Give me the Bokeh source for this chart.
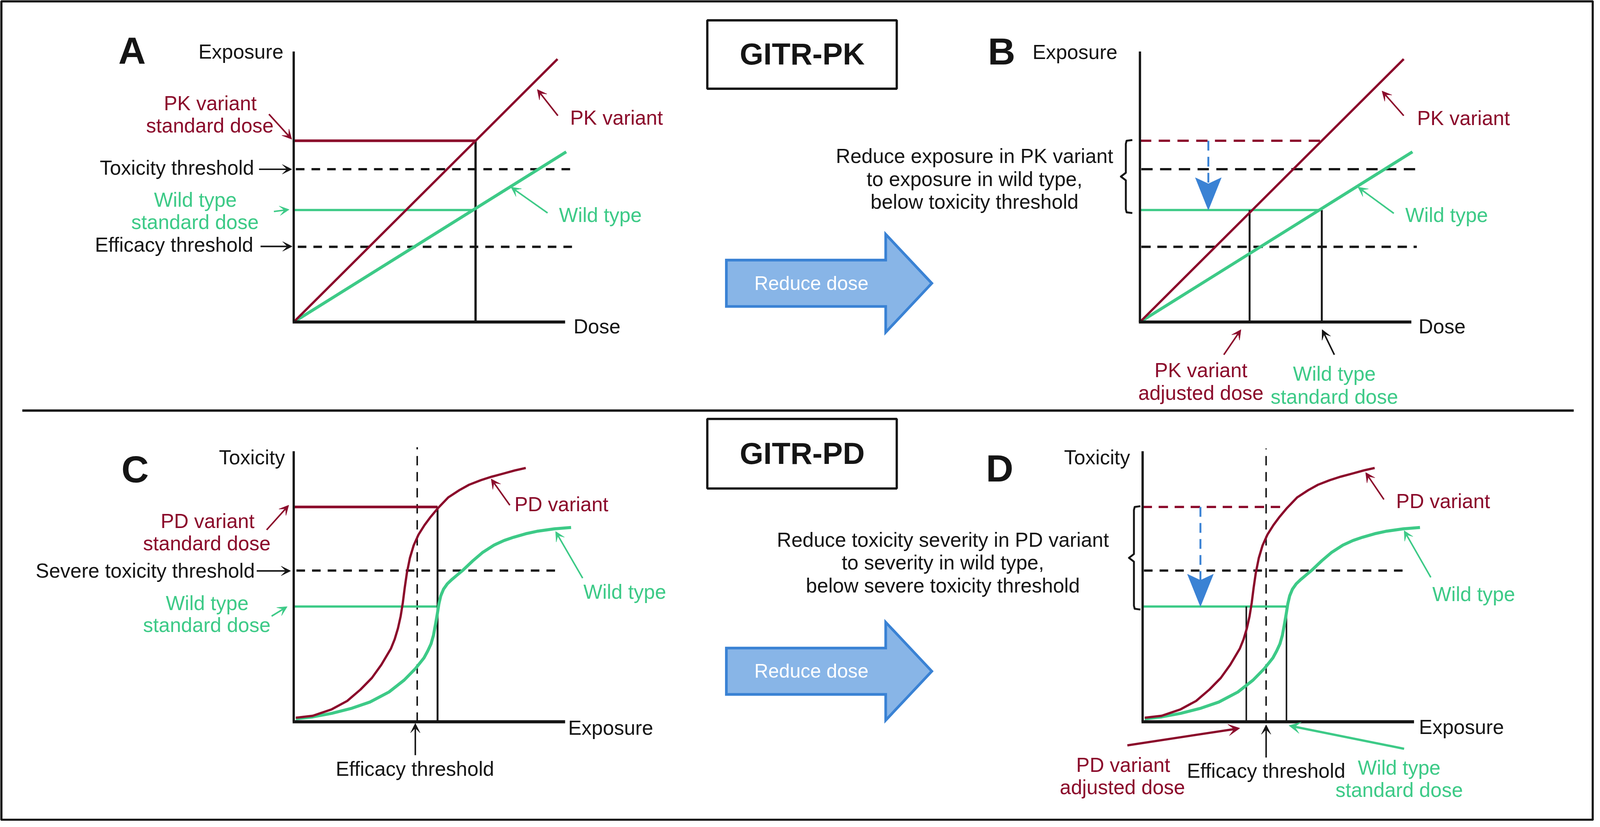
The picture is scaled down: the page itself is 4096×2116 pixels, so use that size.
from bokeh.plotting import figure
from bokeh.models import Range1d, Arrow, VeeHead
from bokeh.core.properties import value
from bokeh.embed import file_html
from bokeh.resources import INLINE

# ---------------- chart data (arbitrary units, each axis runs 0..10) ----------------
AXIS_MAX = 10.0

# GITR-PK panels (A, B): exposure against dose
pk_variant_dose = [0.0, 9.72]
pk_variant_exposure = [0.0, 9.72]
pk_wild_dose = [0.0, 10.04]
pk_wild_exposure = [0.0, 6.29]
standard_dose = 6.70
pk_variant_std_exposure = 6.70
pk_wild_std_exposure = 4.14
pk_variant_adjusted_dose = 4.04
toxicity_threshold = 5.65
efficacy_threshold = 2.78

# GITR-PD panels (C, D): toxicity against exposure
pd_variant_exposure = [0.08, 0.70, 1.40, 1.97, 2.46, 2.88, 3.23, 3.58, 3.72, 3.84,
                       3.94, 4.02, 4.09, 4.17, 4.28, 4.42, 4.60, 4.82, 5.05, 5.30,
                       5.69, 6.10, 6.46, 6.90, 7.30, 7.75, 8.15, 8.55]
pd_variant_toxicity = [0.15, 0.22, 0.46, 0.77, 1.19, 1.62, 2.11, 2.70, 3.05, 3.45,
                       3.90, 4.40, 4.95, 5.50, 6.05, 6.52, 6.92, 7.27, 7.58, 7.88,
                       8.29, 8.56, 8.76, 8.93, 9.06, 9.18, 9.29, 9.38]
pd_wild_exposure = [0.08, 0.70, 1.40, 2.11, 2.81, 3.51, 4.07, 4.49, 4.80, 4.94,
                    5.06, 5.15, 5.22, 5.29, 5.35, 5.42, 5.52, 5.66, 5.84, 6.03, 6.22,
                    6.60, 6.95, 7.38, 7.75, 8.10, 8.55, 8.96, 9.60, 10.22]
pd_wild_toxicity = [0.11, 0.18, 0.31, 0.49, 0.73, 1.10, 1.54, 1.97, 2.36, 2.62,
                    2.88, 3.20, 3.58, 3.98, 4.36, 4.66, 4.90, 5.10, 5.27, 5.43, 5.59,
                    5.95, 6.25, 6.53, 6.70, 6.82, 6.95, 7.04, 7.13, 7.18]
pd_standard_exposure = 5.30
pd_variant_std_toxicity = 7.94
pd_wild_std_toxicity = 4.26
pd_variant_adjusted_exposure = 3.82
severe_toxicity_threshold = 5.59
efficacy_exposure = 4.55

# ---------------- layout ----------------
REF_W, REF_H = 4181, 2160
WIDTH, HEIGHT = 4080, 2100
S = HEIGHT / REF_H
U = 71.2  # reference pixels per data unit
ORIGIN = {"A": (770, 847), "B": (2990, 847), "C": (770, 1899), "D": (2997, 1899)}
BASELINE_FIX = 0.28  # renderer draws alphabetic text a little low; compensate (em)
TXT = 53

INK = "#151515"
RED = "#8b0a2b"
GREEN = "#3dca87"
BLUE_FILL = "#88b5e7"
BLUE_LINE = "#3a82d4"
FONT = "Liberation Sans"

p = figure(width=WIDTH, height=HEIGHT, x_range=Range1d(0, REF_W), y_range=Range1d(REF_H, 0),
           output_backend="svg", toolbar_location=None, min_border=0)
p.axis.visible = False
p.grid.visible = False
p.outline_line_color = None
p.background_fill_color = "white"
p.border_fill_color = "white"


def gx(panel, xs):
    return [ORIGIN[panel][0] + x * U for x in xs]


def gy(panel, ys):
    return [ORIGIN[panel][1] - y * U for y in ys]


def dash(a, b):
    return f"{max(1, round(a * S))} {max(1, round(b * S))}"


def line(panel, xs, ys, color, lw, dsh="solid", cap="butt"):
    p.line(gx(panel, xs), gy(panel, ys), line_color=color, line_width=lw * S,
           line_dash=dsh, line_cap=cap, line_join="round")


def axes(panel):
    line(panel, [0, 0], [0, AXIS_MAX], INK, 6)
    line(panel, [-0.04, AXIS_MAX], [0, 0], INK, 8)


def label(x, y, txt, color=INK, align="left", size=TXT, bold=False):
    p.text(x=[x], y=[y - BASELINE_FIX * size], text=[txt], text_color=color, text_align=align,
           text_baseline="alphabetic", text_font=value(FONT),
           text_font_size=value(f"{size * S:.1f}px"),
           text_font_style="bold" if bold else "normal")


def note(x0, y0, x1, y1, color=INK, lw=4, head=25):
    p.add_layout(Arrow(end=VeeHead(size=head * S, fill_color=color, line_color=color, line_width=1),
                       x_start=x0, y_start=y0, x_end=x1, y_end=y1,
                       line_color=color, line_width=lw * S))


def brace(panel, xoff, lo, hi):
    X = gx(panel, [xoff])[0]
    ytop, ybot = gy(panel, [hi])[0] - 2, gy(panel, [lo])[0] + 8
    ymid = (ytop + ybot) / 2
    xs = [X + 17, X + 2, X, X, X - 13, X, X, X + 2, X + 17]
    ys = [ytop, ytop + 2, ytop + 10, ymid - 10, ymid, ymid + 10, ybot - 10, ybot - 2, ybot]
    p.line(xs, ys, line_color=INK, line_width=5 * S, line_join="round")


def drop_arrow(panel, xval, top, bottom):
    X = gx(panel, [xval])[0]
    yt, yb = gy(panel, [top])[0], gy(panel, [bottom])[0]
    L, w, notch = 85, 68, 16
    p.line([X, X], [yt, yb - L + notch], line_color=BLUE_LINE, line_width=5 * S, line_dash=dash(26, 16))
    p.patch([X - w / 2, X, X + w / 2, X], [yb - L, yb - L + notch, yb - L, yb],
            fill_color=BLUE_LINE, line_color=BLUE_LINE, line_width=1)


def block_arrow(yc):
    x0, neck, tip, bh, hh = 1905, 2323, 2444, 61, 129
    xs = [x0, neck, neck, tip, neck, neck, x0]
    ys = [yc - bh, yc - bh, yc - hh, yc, yc + hh, yc + bh, yc + bh]
    p.patch(xs, ys, fill_color=BLUE_FILL, line_color=BLUE_LINE, line_width=7 * S, line_join="miter")
    label(2128, yc + 14, "Reduce dose", color="white", align="center", size=51)


# ---------------- frame, divider, boxes ----------------
p.quad(left=[3], right=[REF_W - 3], top=[3], bottom=[REF_H - 3],
       fill_color=None, line_color=INK, line_width=6 * S)
p.line([58, 4128], [1080, 1080], line_color=INK, line_width=6 * S)
p.quad(left=[1855, 1855], right=[2352, 2352], top=[53, 1102], bottom=[233, 1285],
       fill_color=None, line_color=INK, line_width=6 * S)
label(2104, 164, "GITR-PK", align="center", size=80, bold=True)
label(2104, 1215, "GITR-PD", align="center", size=80, bold=True)
block_arrow(745)
block_arrow(1766)

# ---------------- Panel A ----------------
line("A", [0.08, 10.3], [toxicity_threshold] * 2, INK, 6, dash(23, 18))
line("A", [0.15, 10.4], [efficacy_threshold] * 2, INK, 6, dash(23, 18))
line("A", [0, standard_dose], [pk_variant_std_exposure] * 2, RED, 7)
line("A", [0, standard_dose], [pk_wild_std_exposure] * 2, GREEN, 6)
line("A", [standard_dose] * 2, [0, pk_variant_std_exposure], INK, 6)
line("A", pk_wild_dose, pk_wild_exposure, GREEN, 8)
line("A", pk_variant_dose, pk_variant_exposure, RED, 6)
axes("A")
label(346, 161, "A", align="center", size=100, bold=True)
label(743, 150, "Exposure", align="right")
label(551, 286, "PK variant", RED, "center")
label(550, 345, "standard dose", RED, "center")
note(705, 300, 765, 366, RED)
label(666, 456, "Toxicity threshold", align="right")
note(679, 445, 765, 445)
label(512, 540, "Wild type", GREEN, "center")
label(511, 599, "standard dose", GREEN, "center")
note(718, 556, 758, 551, GREEN)
label(664, 658, "Efficacy threshold", align="right")
note(683, 648, 766, 648)
label(1495, 324, "PK variant", RED)
note(1463, 304, 1409, 235, RED)
label(1466, 580, "Wild type", GREEN)
note(1436, 560, 1340, 492, GREEN)
label(1504, 873, "Dose")

# ---------------- Panel B ----------------
line("B", [0.05, 10.2], [toxicity_threshold] * 2, INK, 6, dash(30, 20))
line("B", [0.05, 10.2], [efficacy_threshold] * 2, INK, 6, dash(25, 17))
line("B", [0, standard_dose], [pk_variant_std_exposure] * 2, RED, 6, dash(30, 20))
line("B", [0, standard_dose], [pk_wild_std_exposure] * 2, GREEN, 6)
line("B", [pk_variant_adjusted_dose] * 2, [0, pk_wild_std_exposure], INK, 5)
line("B", [standard_dose] * 2, [0, pk_wild_std_exposure], INK, 5)
line("B", pk_wild_dose, pk_wild_exposure, GREEN, 8)
line("B", pk_variant_dose, pk_variant_exposure, RED, 6)
axes("B")
drop_arrow("B", 2.52, pk_variant_std_exposure, pk_wild_std_exposure)
brace("B", -0.52, pk_wild_std_exposure, pk_variant_std_exposure)
label(2627, 163, "B", align="center", size=100, bold=True)
label(2931, 151, "Exposure", align="right")
label(2556, 425, "Reduce exposure in PK variant", align="center")
label(2556, 485, "to exposure in wild type,", align="center")
label(2556, 545, "below toxicity threshold", align="center")
label(3717, 325, "PK variant", RED)
note(3682, 304, 3625, 239, RED)
label(3686, 580, "Wild type", GREEN)
note(3656, 561, 3562, 492, GREEN)
label(3721, 873, "Dose")
label(3150, 988, "PK variant", RED, "center")
label(3150, 1048, "adjusted dose", RED, "center")
note(3210, 933, 3255, 867, RED)
label(3500, 998, "Wild type", GREEN, "center")
label(3500, 1058, "standard dose", GREEN, "center")
note(3500, 933, 3468, 867, INK)

# ---------------- Panel C ----------------
line("C", [0.1, 9.68], [severe_toxicity_threshold] * 2, INK, 6, dash(23, 18))
line("C", [efficacy_exposure] * 2, [0, 10.15], INK, 4, dash(25, 17))
line("C", [0, pd_standard_exposure], [pd_variant_std_toxicity] * 2, RED, 7)
line("C", [0, pd_standard_exposure], [pd_wild_std_toxicity] * 2, GREEN, 6)
line("C", [pd_standard_exposure] * 2, [0, pd_variant_std_toxicity], INK, 5)
line("C", pd_wild_exposure, pd_wild_toxicity, GREEN, 8)
line("C", pd_variant_exposure, pd_variant_toxicity, RED, 6)
axes("C")
label(354, 1262, "C", align="center", size=100, bold=True)
label(747, 1218, "Toxicity", align="right")
label(544, 1385, "PD variant", RED, "center")
label(542, 1444, "standard dose", RED, "center")
note(699, 1394, 757, 1329, RED)
label(668, 1516, "Severe toxicity threshold", align="right")
note(673, 1502, 762, 1502)
label(543, 1601, "Wild type", GREEN, "center")
label(542, 1659, "standard dose", GREEN, "center")
note(712, 1621, 753, 1596, GREEN)
label(1349, 1341, "PD variant", RED)
note(1337, 1329, 1288, 1260, RED)
label(1530, 1572, "Wild type", GREEN)
note(1528, 1521, 1457, 1398, GREEN)
label(1490, 1930, "Exposure")
label(1088, 2038, "Efficacy threshold", align="center")
note(1089, 1987, 1089, 1903)

# ---------------- Panel D ----------------
line("D", [0.05, 9.65], [severe_toxicity_threshold] * 2, INK, 6, dash(23, 18))
line("D", [efficacy_exposure] * 2, [0, 10.1], INK, 4, dash(25, 17))
line("D", [0, pd_standard_exposure], [pd_variant_std_toxicity] * 2, RED, 6, dash(25, 17))
line("D", [0, pd_standard_exposure], [pd_wild_std_toxicity] * 2, GREEN, 6)
line("D", [pd_variant_adjusted_exposure] * 2, [0, pd_wild_std_toxicity], INK, 4)
line("D", [pd_standard_exposure] * 2, [0, pd_wild_std_toxicity], INK, 4)
line("D", pd_wild_exposure, pd_wild_toxicity, GREEN, 8)
line("D", pd_variant_exposure, pd_variant_toxicity, RED, 6)
axes("D")
drop_arrow("D", 2.13, pd_variant_std_toxicity, pd_wild_std_toxicity)
brace("D", -0.32, pd_wild_std_toxicity, pd_variant_std_toxicity)
label(2622, 1260, "D", align="center", size=100, bold=True)
label(2964, 1218, "Toxicity", align="right")
label(2473, 1435, "Reduce toxicity severity in PD variant", align="center")
label(2473, 1494, "to severity in wild type,", align="center")
label(2473, 1555, "below severe toxicity threshold", align="center")
label(3662, 1333, "PD variant", RED)
note(3630, 1314, 3582, 1243, RED)
label(3757, 1578, "Wild type", GREEN)
note(3753, 1519, 3683, 1396, GREEN)
label(3722, 1927, "Exposure")
label(2946, 2027, "PD variant", RED, "center")
label(2944, 2086, "adjusted dose", RED, "center")
note(2957, 1961, 3252, 1916, RED, lw=6, head=30)
label(3321, 2043, "Efficacy threshold", align="center")
note(3321, 1993, 3321, 1907)
label(3670, 2034, "Wild type", GREEN, "center")
label(3670, 2093, "standard dose", GREEN, "center")
note(3683, 1970, 3381, 1909, GREEN, lw=6, head=30)

open("out.html", "w").write(file_html(p, INLINE))
